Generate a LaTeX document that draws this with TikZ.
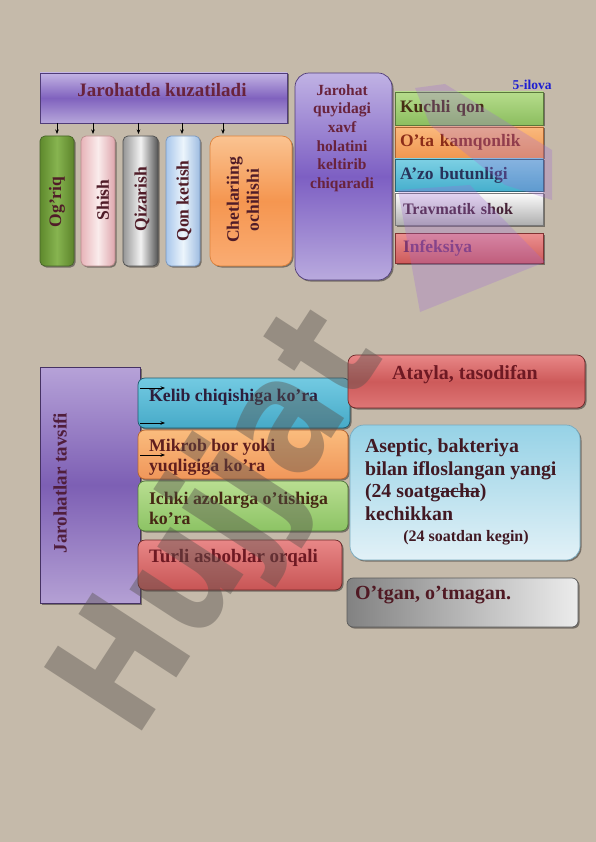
\documentclass[tikz,border=0pt]{standalone}
\usepackage{fontspec}
\setmainfont{Liberation Serif}
\newfontfamily\wmfont[FakeStretch=0.85]{DejaVu Sans}
\usetikzlibrary{shadows,calc,arrows.meta}
\definecolor{bgc}{RGB}{197,186,170}
\definecolor{purpL}{RGB}{195,180,228}
\definecolor{purpM}{RGB}{128,98,190}
\definecolor{purpB}{RGB}{182,166,218}
\definecolor{purpD}{RGB}{80,60,120}
\definecolor{maroon}{RGB}{105,35,60}
\definecolor{tdark}{RGB}{80,28,40}
\definecolor{ilova}{RGB}{30,30,210}
\definecolor{wmgray}{RGB}{85,80,75}
\definecolor{wmpurp}{RGB}{160,105,215}
\newcommand\fsz[2]{\fontsize{#1}{#2}\selectfont\bfseries}
\newsavebox\strkbox
\newcommand\strk[1]{\sbox\strkbox{#1}\rlap{\rule[0.27em]{\wd\strkbox}{1pt}}\usebox\strkbox}
\tikzset{
  box/.style={draw, line width=0.7pt, inner sep=0pt, outer sep=0pt,
    drop shadow={shadow xshift=1.5pt, shadow yshift=-1.5pt, opacity=0.4, fill=black}},
  txt/.style={inner sep=0pt, outer sep=0pt},
  arr/.style={-{Stealth[length=4.5pt,width=3.5pt]}, line width=0.6pt, draw=black},
  vbox/.style={box, rounded corners=5pt, minimum width=34pt, minimum height=130pt},
  vtext/.style={txt, rotate=90, font=\fsz{17.5}{20}, text=tdark},
  rbox/.style={box, minimum width=148pt, inner xsep=5pt, text width=138pt, align=left, font=\fsz{17.5}{20}},
}
\begin{document}
\begin{tikzpicture}[x=1pt,y=-1pt]
\fill[bgc] (0,0) rectangle (596,842);
\useasboundingbox (0,0) rectangle (596,842);

% ===== top left: Jarohatda kuzatiladi =====
\node[box, draw=purpD, top color=purpL, bottom color=purpB, middle color=purpM,
      minimum width=247pt, minimum height=50pt] (head) at (163.5,98) {};
\node[txt, font=\fsz{19}{22}, text=maroon] (headt) at (162,90) {Jarohatda kuzatiladi};

\node[vbox, draw={rgb,255:red,70;green,100;blue,40},
      left color={rgb,255:red,95;green,138;blue,45}, right color={rgb,255:red,92;green,132;blue,42},
      middle color={rgb,255:red,135;green,180;blue,80}] (og) at (57,201) {};
\node[vtext] (ogt) at (57,202) {Og’riq};

\node[vbox, draw={rgb,255:red,185;green,140;blue,140},
      left color={rgb,255:red,232;green,180;blue,185}, right color={rgb,255:red,222;green,165;blue,172},
      middle color={rgb,255:red,250;green,236;blue,236}] (sh) at (98,201) {};
\node[vtext] (sht) at (103,200) {Shish};

\node[vbox, minimum width=35pt, draw={rgb,255:red,80;green,80;blue,80},
      left color={rgb,255:red,150;green,150;blue,150}, right color={rgb,255:red,85;green,85;blue,85},
      middle color={rgb,255:red,242;green,242;blue,242}] (qz) at (140.5,201) {};
\node[vtext] (qzt) at (142,199) {Qizarish};

\node[vbox, draw={rgb,255:red,120;green,150;blue,190},
      left color={rgb,255:red,168;green,198;blue,235}, right color={rgb,255:red,158;green,188;blue,225},
      middle color={rgb,255:red,236;green,245;blue,252}] (qk) at (183,201) {};
\node[vtext] (qkt) at (184,201) {Qon ketish};

\node[box, rounded corners=10pt, minimum width=82pt, minimum height=130pt,
      draw={rgb,255:red,220;green,130;blue,60},
      top color={rgb,255:red,250;green,195;blue,145}, bottom color={rgb,255:red,250;green,172;blue,115},
      middle color={rgb,255:red,245;green,150;blue,80}] (ch) at (251,201) {};
\node[vtext, align=center] (cht) at (243,200) {Chetlariing\\ochilishi};

\coordinate (a1) at ($(og.north)+(0,-2)$);
\coordinate (a2) at ($(sh.north)+(-5,-2)$);
\coordinate (a3) at ($(qz.north)+(-2,-2)$);
\coordinate (a4) at ($(qk.north)+(-1,-2)$);
\coordinate (a5) at ($(ch.north west)+(13,-2)$);
\draw[arr] (head.south -| a1) -- (a1);
\draw[arr] (head.south -| a2) -- (a2);
\draw[arr] (head.south -| a3) -- (a3);
\draw[arr] (head.south -| a4) -- (a4);
\draw[arr] (head.south -| a5) -- (a5);

% ===== Jarohat quyidagi ... =====
\node[box, rounded corners=14pt, minimum width=97pt, minimum height=207pt, draw=purpD,
      top color={rgb,255:red,192;green,178;blue,228}, bottom color={rgb,255:red,185;green,170;blue,222},
      middle color={rgb,255:red,125;green,95;blue,195}] (qv) at (343.5,176.5) {};
\node[txt, align=center, font=\fsz{15.5}{18.6}, text=maroon] (qvt) at (342,138)
  {Jarohat\\quyidagi\\xavf\\holatini\\keltirib\\chiqaradi};

\node[txt, font=\fsz{13.5}{16}, text=ilova] (ilv) at (532,85) {5-ilova};

\node[rbox, draw={rgb,255:red,90;green,120;blue,60},
      top color={rgb,255:red,182;green,220;blue,140}, bottom color={rgb,255:red,140;green,190;blue,95},
      minimum height=33pt, text={rgb,255:red,70;green,45;blue,20}] (r1) at (469,108.5) {Kuchli qon};
\node[rbox, draw={rgb,255:red,170;green,100;blue,50},
      top color={rgb,255:red,250;green,185;blue,125}, bottom color={rgb,255:red,240;green,150;blue,80},
      minimum height=31pt, text={rgb,255:red,140;green,45;blue,25}] (r2) at (469,142.5) {O’ta kamqonlik};
\node[rbox, draw={rgb,255:red,40;green,100;blue,120},
      top color={rgb,255:red,125;green,208;blue,228}, bottom color={rgb,255:red,70;green,175;blue,205},
      minimum height=32pt, text={rgb,255:red,40;green,50;blue,90}] (r3) at (469,175) {A’zo butunligi};
\node[rbox, draw={rgb,255:red,120;green,120;blue,120}, font=\fsz{16}{19},
      top color={rgb,255:red,252;green,252;blue,252}, bottom color={rgb,255:red,175;green,175;blue,175},
      minimum height=32pt, text={rgb,255:red,70;green,35;blue,55}] (r4) at (469,209) {\hspace{3pt}Travmatik shok};
\node[rbox, draw={rgb,255:red,130;green,50;blue,50},
      top color={rgb,255:red,236;green,145;blue,145}, bottom color={rgb,255:red,205;green,90;blue,90},
      minimum height=30pt, text={rgb,255:red,125;green,55;blue,110}] (r5) at (469,248) {\hspace{3pt}Infeksiya};

% ===== bottom: Jarohatlar tavsifi =====
\node[box, draw={rgb,255:red,70;green,50;blue,100},
      top color={rgb,255:red,182;green,162;blue,216}, bottom color={rgb,255:red,180;green,160;blue,212},
      middle color={rgb,255:red,125;green,95;blue,180},
      minimum width=100pt, minimum height=236pt] (tav) at (90,485) {};
\node[txt, rotate=90, font=\fsz{19}{22}, text={rgb,255:red,80;green,30;blue,60}] (tavt) at (60,483) {Jarohatlar tavsifi};

\node[box, rounded corners=7pt, minimum width=212pt, minimum height=50pt,
      draw={rgb,255:red,30;green,90;blue,110},
      top color={rgb,255:red,115;green,202;blue,226}, bottom color={rgb,255:red,70;green,170;blue,200}] (kel) at (244,403) {};
\node[txt, anchor=west, font=\fsz{17.8}{20}, text={rgb,255:red,45;green,30;blue,60}] (kelt) at (149,397) {Kelib chiqishiga ko’ra};

\node[box, rounded corners=7pt, minimum width=210pt, minimum height=49pt,
      draw={rgb,255:red,180;green,100;blue,50},
      top color={rgb,255:red,250;green,188;blue,125}, bottom color={rgb,255:red,240;green,150;blue,90}] (mik) at (243,454.5) {};
\node[txt, anchor=west, align=left, font=\fsz{17.8}{20}, text={rgb,255:red,95;green,30;blue,30}] (mikt) at (149,457) {Mikrob bor yoki\\yuqligiga ko’ra};

\node[box, rounded corners=7pt, minimum width=210pt, minimum height=50pt,
      draw={rgb,255:red,80;green,120;blue,60},
      top color={rgb,255:red,185;green,222;blue,145}, bottom color={rgb,255:red,140;green,195;blue,100}] (ich) at (243,506) {};
\node[txt, anchor=west, align=left, font=\fsz{17.8}{20}, text={rgb,255:red,70;green,40;blue,20}] (icht) at (149,508) {Ichki azolarga o’tishiga\\ko’ra};

\node[box, rounded corners=7pt, minimum width=204pt, minimum height=50pt,
      draw={rgb,255:red,110;green,40;blue,40},
      top color={rgb,255:red,232;green,135;blue,135}, bottom color={rgb,255:red,200;green,85;blue,85}] (tur) at (240,565) {};
\node[txt, anchor=west, font=\fsz{19}{22}, text={rgb,255:red,110;green,25;blue,35}] (turt) at (149,558) {Turli asboblar orqali};

\coordinate (b1) at (165,388);
\coordinate (b2) at (165,423);
\coordinate (b3) at (165,455);
\draw[arr] (tav.east |- b1) -- (b1);
\draw[arr] (tav.east |- b2) -- (b2);
\draw[arr] (tav.east |- b3) -- (b3);

% ===== right column bottom =====
\node[box, rounded corners=8pt, minimum width=237pt, minimum height=53pt,
      draw={rgb,255:red,110;green,40;blue,40},
      top color={rgb,255:red,232;green,135;blue,135}, bottom color={rgb,255:red,222;green,118;blue,118},
      middle color={rgb,255:red,205;green,90;blue,90}] (ata) at (466.5,381.5) {};
\node[txt, font=\fsz{20}{23}, text={rgb,255:red,110;green,25;blue,35}] (atat) at (465,375) {Atayla, tasodifan};

\node[box, rounded corners=14pt, minimum width=230pt, minimum height=135pt,
      draw={rgb,255:red,120;green,170;blue,190},
      top color={rgb,255:red,150;green,210;blue,230}, bottom color={rgb,255:red,226;green,241;blue,247}] (ase) at (465,492.5) {};
\node[txt, anchor=north west, align=left, font=\fsz{19.8}{22.5}, text={rgb,255:red,65;green,25;blue,35}] (aset) at (365,439)
  {Aseptic, bakteriya\\bilan ifloslangan yangi\\(24 soatg\strk{acha})\\kechikkan};
\node[txt, font=\fsz{16}{19}, text={rgb,255:red,65;green,25;blue,35}] (aset2) at (466,538) {(24 soatdan kegin)};

\node[box, rounded corners=6pt, minimum width=231pt, minimum height=49pt,
      draw={rgb,255:red,90;green,90;blue,90},
      left color={rgb,255:red,130;green,130;blue,130}, right color={rgb,255:red,236;green,236;blue,236}] (otg) at (462.5,602.5) {};
\node[txt, anchor=west, font=\fsz{20}{23}, text={rgb,255:red,80;green,25;blue,35}] (otgt) at (355,595) {O’tgan, o’tmagan.};

% ===== watermark =====
\fill[wmpurp, opacity=0.28] (415,88) -- (445,84) -- (552,150) -- (552,200) -- (505,185) -- (430,125) -- cycle;
\fill[wmpurp, opacity=0.28] (398,190) -- (470,185) -- (545,262) -- (420,312) -- cycle;
\node[txt, rotate=57, font=\wmfont\fontsize{160}{160}\selectfont\bfseries, text=wmgray, opacity=0.42] (wm) at (224,525) {Hujjat};
\end{tikzpicture}
\end{document}
